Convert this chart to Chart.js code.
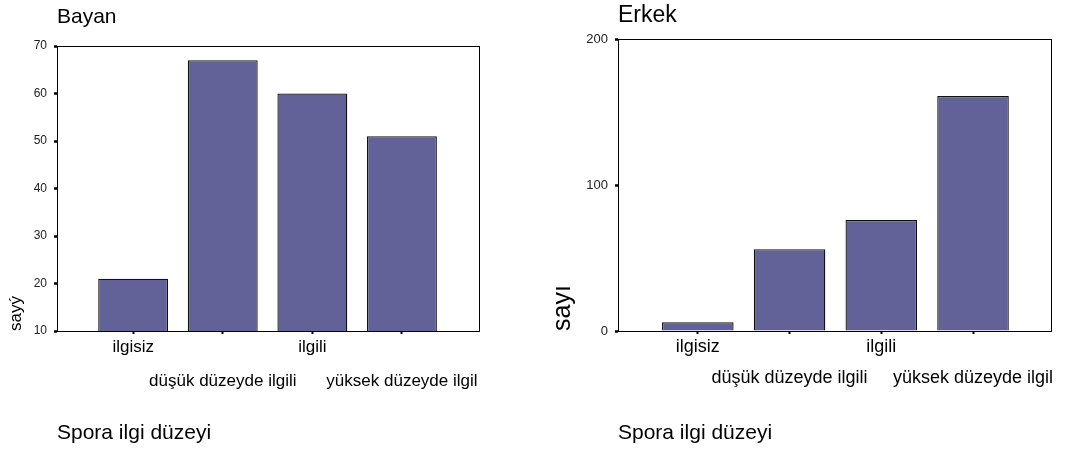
<!DOCTYPE html>
<html>
<head>
<meta charset="utf-8">
<script src="https://cdn.jsdelivr.net/npm/chart.js@4/dist/chart.umd.min.js"></script>
<style>
  body { margin: 0; background: #fff; }
  .wrap { position: absolute; top: 0; width: 540px; height: 453px; }
</style>
</head>
<body>
<div class="wrap" style="left:0"><canvas id="bayanChart" width="540" height="453"></canvas></div>
<div class="wrap" style="left:540px"><canvas id="erkekChart" width="540" height="453"></canvas></div>
<script>
// categories of "Spora ilgi düzeyi"
const categories = ['ilgisiz', 'düşük düzeyde ilgili', 'ilgili', 'yüksek düzeyde ilgil'];
// staggered tick labels (second and fourth go on the lower row)
const tickLabels = ['ilgisiz', ['', 'düşük düzeyde ilgili'], 'ilgili', ['', 'yüksek düzeyde ilgil']];

// counts
const bayanCounts = [21, 67, 60, 51];
const erkekCounts = [6, 56, 76, 161];

const barColor = 'rgb(98, 98, 153)';
const fontFamily = '"Liberation Sans", Arial, sans-serif';

Chart.defaults.font.family = fontFamily;
Chart.defaults.color = '#000';

// draws the box round the plot area
const frame = {
  id: 'frame',
  afterDraw(chart) {
    const a = chart.chartArea;
    const ctx = chart.ctx;
    ctx.save();
    ctx.strokeStyle = '#000';
    ctx.lineWidth = 1;
    ctx.strokeRect(Math.round(a.left) + 0.5, Math.round(a.top) + 0.5,
      Math.round(a.right - a.left), Math.round(a.bottom - a.top));
    ctx.restore();
  }
};

function makeChart(id, s) {
  return new Chart(document.getElementById(id), {
    type: 'bar',
    data: {
      datasets: [{
        data: s.counts.map((v, i) => ({ x: i + 1, y: v })),
        backgroundColor: barColor,
        borderColor: '#111',
        borderWidth: 1.3,
        barPercentage: 0.78,
        categoryPercentage: 1
      }]
    },
    options: {
      responsive: false,
      animation: false,
      devicePixelRatio: 1,
      layout: { padding: { left: 0, top: 0, right: s.padRight, bottom: 0 } },
      plugins: {
        legend: { display: false },
        tooltip: { enabled: false },
        title: {
          display: true,
          text: s.title,
          align: 'start',
          fullSize: false,
          color: '#000',
          font: { size: s.titleSize, weight: 'normal', lineHeight: 1 },
          padding: { top: s.titleTop, bottom: s.titleBottom }
        }
      },
      scales: {
        x: {
          type: 'linear',
          offset: false,
          min: s.xMin,
          max: s.xMax,
          afterBuildTicks: (scale) => { scale.ticks = categories.map((c, i) => ({ value: i + 1 })); },
          afterFit: (scale) => { scale.height = 122; },
          grid: { display: true, offset: false, drawOnChartArea: false, drawTicks: true, tickLength: 3, tickColor: '#000', tickWidth: 2 },
          border: { display: true, color: '#000', width: 1 },
          ticks: {
            autoSkip: false,
            maxRotation: 0,
            padding: -3,
            color: '#000',
            font: { size: s.tickSize, lineHeight: s.tickLine },
            callback: (v, i) => tickLabels[i]
          },
          title: {
            display: true,
            text: 'Spora ilgi düzeyi',
            align: 'start',
            color: '#000',
            font: { size: 21 },
            padding: { top: 0, bottom: 7 }
          }
        },
        y: {
          min: s.yMin,
          max: s.yMax,
          afterFit: (scale) => { scale.width = s.yWidth; },
          grid: { display: true, drawOnChartArea: false, drawTicks: true, tickLength: 3, tickColor: '#000', tickWidth: 2.5 },
          border: { display: true, color: '#000', width: 1 },
          ticks: {
            stepSize: s.yStep,
            padding: 7,
            color: '#222',
            font: { size: s.yTickSize }
          },
          title: {
            display: true,
            text: s.yTitle,
            align: 'start',
            color: '#000',
            font: { size: s.yTitleSize },
            padding: { top: s.yTitlePad, bottom: 0 }
          }
        }
      }
    },
    plugins: [frame]
  });
}

const bayanChart = makeChart('bayanChart', {
  title: 'Bayan', titleSize: 21, titleTop: 7, titleBottom: 18,
  counts: bayanCounts, yMin: 10, yMax: 70, yStep: 10, yTickSize: 12,
  yTitle: 'sayý', yTitleSize: 17, yTitlePad: 6, yWidth: 57,
  xMin: 0.15, xMax: 4.86, padRight: 61, tickSize: 17, tickLine: 1.97
});

const erkekChart = makeChart('erkekChart', {
  title: 'Erkek', titleSize: 23, titleTop: 4, titleBottom: 12,
  counts: erkekCounts, yMin: 0, yMax: 200, yStep: 100, yTickSize: 13,
  yTitle: 'sayı', yTitleSize: 25, yTitlePad: 8, yWidth: 78,
  xMin: 0.13, xMax: 4.85, padRight: 29, tickSize: 18, tickLine: 1.76
});
</script>
</body>
</html>
